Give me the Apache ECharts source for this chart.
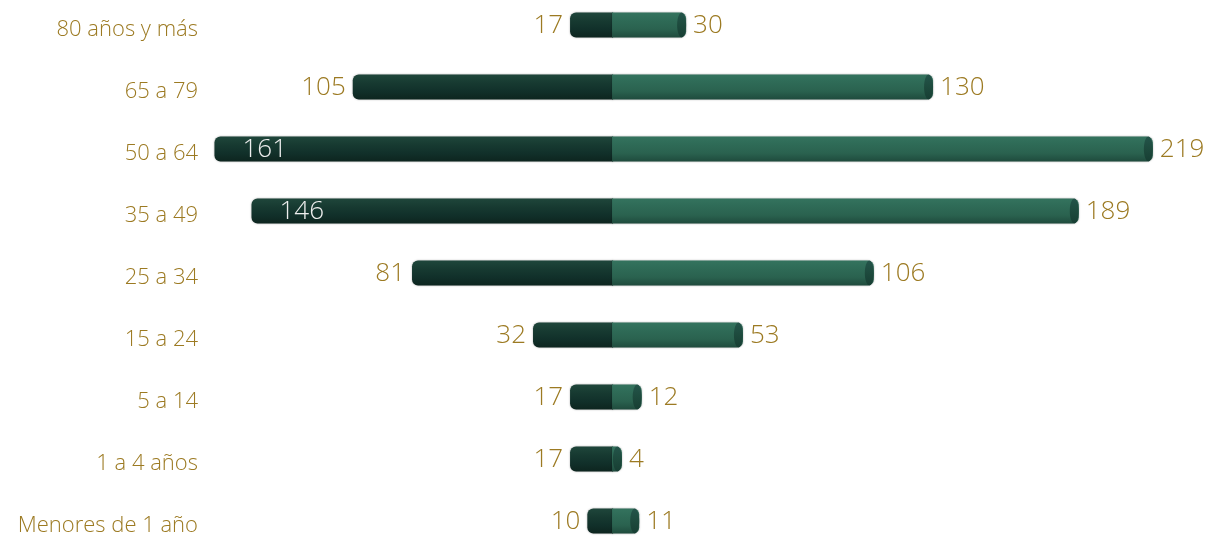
<!DOCTYPE html>
<html>
<head>
<meta charset="utf-8">
<script src="https://cdn.jsdelivr.net/npm/echarts@6/dist/echarts.min.js"></script>
<style>
html,body{margin:0;padding:0;background:#fff;}
#chart{width:1216px;height:537px;}
</style>
</head>
<body>
<div id="chart"></div>
<script>
// Data (top to bottom)
const categories = ['80 años y más','65 a 79','50 a 64','35 a 49','25 a 34','15 a 24','5 a 14','1 a 4 años','Menores de 1 año'];
const leftValues = [17,105,161,146,81,32,17,17,10];
const rightValues = [30,130,219,189,106,53,12,4,11];

const FONT = "'Open Sans', 'Lato', sans-serif";
const GOLD = '#9c7a22';

const chart = echarts.init(document.getElementById('chart'));

const data = categories.map((c, i) => [i, leftValues[i], rightValues[i]]);

function grad(stops) {
  return new echarts.graphic.LinearGradient(0, 0, 0, 1, stops.map((c, k) => ({offset: k / (stops.length - 1), color: c})));
}

function renderItem(params, api) {
  const i = api.value(0), L = api.value(1), R = api.value(2);
  const c0 = api.coord([0, i]);
  const cL = api.coord([-L, i]);
  const cR = api.coord([R, i]);
  const h = 25;
  const y = c0[1] - h / 2;
  const rx = 4.5;
  const children = [];
  children.push({
    type: 'rect',
    shape: {x: cL[0], y: y, width: c0[0] - cL[0] + 1, height: h, r: [6, 0, 0, 6]},
    style: {fill: grad(['#1f463b', '#173a31', '#11302a', '#0d251f']), shadowBlur: 2, shadowColor: 'rgba(0,0,0,0.35)'}
  });
  children.push({
    type: 'rect',
    shape: {x: c0[0], y: y, width: cR[0] - c0[0], height: h, r: [0, 6, 6, 0]},
    style: {fill: grad(['#34735e', '#2e6a56', '#2a624f', '#1f4b3d']), shadowBlur: 2, shadowColor: 'rgba(0,0,0,0.35)'}
  });
  children.push({
    type: 'ellipse',
    shape: {cx: cR[0] - rx, cy: c0[1], rx: rx, ry: h / 2},
    style: {fill: grad(['#24544a', '#1d4a3d', '#173e33'])}
  });
  const inside = L > 140;
  children.push({
    type: 'text',
    style: {
      text: String(L),
      x: inside ? cL[0] + 28 : cL[0] - 7,
      y: c0[1] + 1,
      align: inside ? 'left' : 'right',
      verticalAlign: 'middle',
      fill: inside ? '#eeeeee' : GOLD,
      font: '300 26px ' + FONT
    }
  });
  children.push({
    type: 'text',
    style: {
      text: String(R),
      x: cR[0] + 7,
      y: c0[1] + 1,
      align: 'left',
      verticalAlign: 'middle',
      fill: GOLD,
      font: '300 26px ' + FONT
    }
  });
  return {type: 'group', children: children};
}

chart.setOption({
  backgroundColor: '#ffffff',
  animation: false,
  grid: {left: 212, right: 36, top: 25, bottom: 15},
  xAxis: {
    type: 'value', min: -162, max: 230,
    show: false
  },
  yAxis: {
    type: 'category', data: categories, inverse: true, boundaryGap: false,
    axisLine: {show: false}, axisTick: {show: false}, splitLine: {show: false},
    axisLabel: {
      color: GOLD, fontSize: 22, fontFamily: FONT, fontWeight: 300, margin: 14, align: 'right',
      formatter: (v) => '{a|' + v + '}',
      rich: {a: {color: GOLD, fontSize: 22, fontFamily: FONT, fontWeight: 300, padding: [10, 0, 0, 0]}}
    }
  },
  series: [{
    type: 'custom',
    renderItem: renderItem,
    encode: {x: [1, 2], y: 0},
    clip: false,
    data: data
  }]
});
</script>
</body>
</html>
